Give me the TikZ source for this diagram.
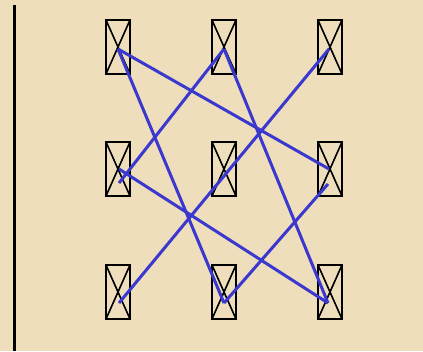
\documentclass[tikz,border=0pt]{standalone}
\usetikzlibrary{calc}
\definecolor{parch}{RGB}{238,222,188}
\definecolor{lineblue}{RGB}{58,56,206}
\begin{document}
\begin{tikzpicture}[x=1pt,y=-1pt,
  xbox/.style={draw=black,line width=2.4pt,minimum width=24pt,minimum height=54pt,inner sep=0pt,
    path picture={\draw[line width=1.6pt] (path picture bounding box.north west)--(path picture bounding box.south east)
      (path picture bounding box.north east)--(path picture bounding box.south west);}},
  link/.style={draw=lineblue,line width=3pt}]
\fill[parch] (0,0) rectangle (423,351);
\useasboundingbox (0,0) rectangle (423,351);
\coordinate (ltop) at (14,5);
\coordinate (lbot) at (14,351);
\draw[line width=3pt] (ltop) -- (lbot);
% boxes
\node[xbox] (b11) at (118,47) {};
\node[xbox] (b12) at (224,47) {};
\node[xbox] (b13) at (330,47) {};
\node[xbox] (b21) at (118,169) {};
\node[xbox] (b22) at (224,169) {};
\node[xbox] (b23) at (330,169) {};
\node[xbox] (b31) at (118,292) {};
\node[xbox] (b32) at (224,292) {};
\node[xbox] (b33) at (330,292) {};
% connector points
\coordinate (p11) at ($(b11.center)+(0,2)$);
\coordinate (p12) at ($(b12.center)+(0,2)$);
\coordinate (p13) at ($(b13.center)+(-1,2)$);
\coordinate (p21a) at ($(b21.center)+(1,0)$);
\coordinate (p21b) at ($(b21.center)+(1,14)$);
\coordinate (p23a) at ($(b23.center)+(-1,0)$);
\coordinate (p23b) at ($(b23.center)+(-2,15)$);
\coordinate (p31) at ($(b31.center)+(1,11)$);
\coordinate (p32) at ($(b32.center)+(0,11)$);
\coordinate (p33) at ($(b33.center)+(-2,11)$);
% links
\draw[link] (p11) -- (p32);
\draw[link] (p11) -- (p23a);
\draw[link] (p12) -- (p21b);
\draw[link] (p12) -- (p33);
\draw[link] (p13) -- (p31);
\draw[link] (p21a) -- (p33);
\draw[link] (p23b) -- (p32);
\end{tikzpicture}
\end{document}
